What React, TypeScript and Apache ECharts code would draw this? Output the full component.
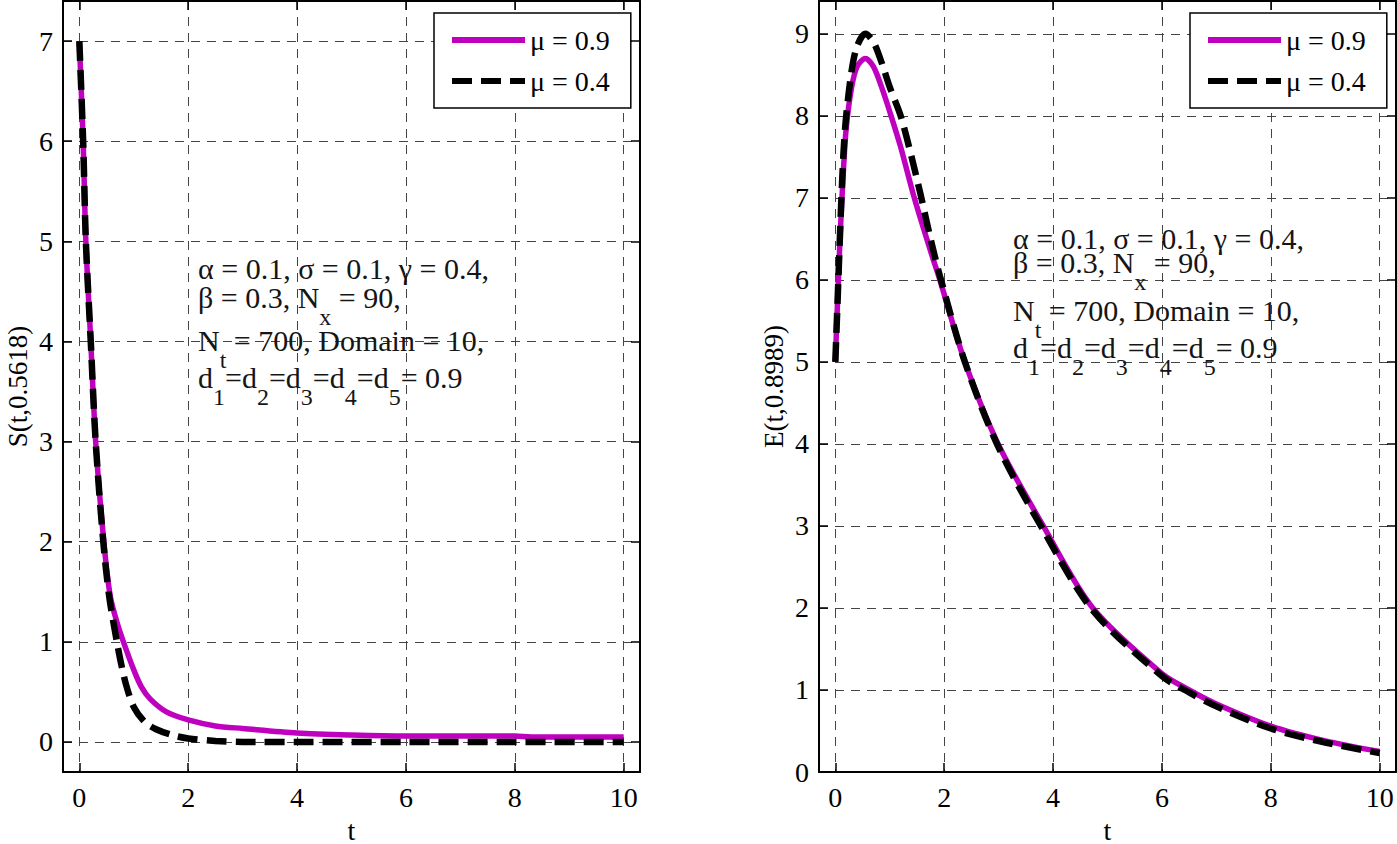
import React, { useEffect, useRef } from "react";
import * as echarts from "echarts";

// ---- data ----
const tS09 = [0, 0.07, 0.12, 0.21, 0.3, 0.45, 0.57, 0.7, 0.81, 1.0, 1.14, 1.3, 1.6, 2.0, 2.5, 3.0, 4.0, 5.0, 6.0, 8.0, 8.3, 10.0];
const S09 = [7, 6, 5, 4, 3, 2, 1.45, 1.18, 1.0, 0.72, 0.55, 0.43, 0.3, 0.22, 0.16, 0.135, 0.09, 0.07, 0.06, 0.06, 0.05, 0.05];
const tS04 = [0, 0.07, 0.12, 0.21, 0.3, 0.44, 0.55, 0.69, 0.78, 0.87, 1.0, 1.2, 1.4, 1.7, 2.0, 2.5, 3.0, 4.0, 6.0, 8.0, 10.0];
const S04 = [7, 6, 5, 4, 3, 2, 1.45, 1.0, 0.75, 0.55, 0.35, 0.2, 0.13, 0.07, 0.035, 0.01, 0, 0, 0, 0, 0];

const tE09 = [0, 0.05, 0.1, 0.15, 0.2, 0.3, 0.4, 0.55, 0.7, 0.85, 1.0, 1.2, 1.45, 1.75, 1.92, 2.38, 2.99, 3.82, 4.73, 6.0, 6.5, 7.0, 8.0, 9.0, 10.0];
const E09 = [5, 5.9, 6.7, 7.35, 7.85, 8.35, 8.6, 8.7, 8.6, 8.35, 8.05, 7.62, 7.0, 6.35, 6.0, 5.0, 4.0, 3.0, 2.0, 1.2, 1.0, 0.83, 0.56, 0.38, 0.25];
const tE04 = [0, 0.05, 0.1, 0.15, 0.2, 0.3, 0.4, 0.55, 0.7, 0.85, 1.0, 1.2, 1.4, 1.58, 1.75, 1.92, 2.38, 2.99, 3.82, 4.73, 6.0, 6.5, 7.0, 8.0, 9.0, 10.0];
const E04 = [5, 5.9, 6.8, 7.55, 8.0, 8.55, 8.85, 9.0, 8.9, 8.65, 8.35, 8.0, 7.5, 7.0, 6.5, 6.05, 5.0, 3.97, 2.95, 1.97, 1.17, 0.97, 0.8, 0.53, 0.36, 0.23];

const seriesNames = ["μ = 0.9", "μ = 0.4"];
const yNames = ["S(t,0.5618)", "E(t,0.8989)"];
const xName = "t";
const noteLines = [
  "{m|α = 0.1, σ = 0.1, γ = 0.4,}",
  "{m|β = 0.3, N}{s|x}{m| = 90,}",
  "{m|N}{s|t}{m| = 700, Domain = 10,}",
  "{m|d}{s|1}{m|=d}{s|2}{m|=d}{s|3}{m|=d}{s|4}{m|=d}{s|5}{m|= 0.9}",
];

const FONT = "Liberation Serif";
const MAGENTA = "#bf00bf";

const pairs = (t: number[], v: number[]) => t.map((x, i) => [x, v[i]]);

const intFmt = (v: number) => (Math.abs(v - Math.round(v)) < 1e-6 ? String(Math.round(v)) : "");

function mainX(gridIndex: number) {
  return {
    type: "value",
    gridIndex,
    min: -0.3,
    max: 10.3,
    splitNumber: 5,
    minInterval: 2,
    maxInterval: 2,
    position: "bottom",
    name: xName,
    nameLocation: "middle",
    nameGap: 44,
    nameTextStyle: { fontFamily: FONT, fontSize: 28, color: "#000" },
    axisLine: { show: true, onZero: false, lineStyle: { color: "#000", width: 2 } },
    axisTick: { show: true, inside: true, length: 9, lineStyle: { color: "#000", width: 1.5 } },
    axisLabel: { formatter: intFmt, fontFamily: FONT, fontSize: 28, color: "#000", margin: 11 },
    splitLine: { show: true, lineStyle: { type: [9, 7], color: "#444", width: 1 } },
  };
}
function topX(gridIndex: number) {
  return {
    type: "value",
    gridIndex,
    min: -0.3,
    max: 10.3,
    splitNumber: 5,
    minInterval: 2,
    maxInterval: 2,
    position: "top",
    axisLine: { show: true, onZero: false, lineStyle: { color: "#000", width: 2 } },
    axisTick: { show: true, inside: true, length: 9, lineStyle: { color: "#000", width: 1.5 } },
    axisLabel: { show: false },
    splitLine: { show: false },
  };
}
function mainY(gridIndex: number, min: number, max: number, split: number, name: string) {
  return {
    type: "value",
    gridIndex,
    min,
    max,
    splitNumber: split,
    minInterval: 1,
    maxInterval: 1,
    position: "left",
    name,
    nameLocation: "middle",
    nameGap: 32,
    nameRotate: 90,
    nameTextStyle: { fontFamily: FONT, fontSize: 27, color: "#000" },
    axisLine: { show: true, onZero: false, lineStyle: { color: "#000", width: 2 } },
    axisTick: { show: true, inside: true, length: 9, lineStyle: { color: "#000", width: 1.5 } },
    axisLabel: { formatter: intFmt, fontFamily: FONT, fontSize: 28, color: "#000", margin: 10 },
    splitLine: { show: true, lineStyle: { type: [9, 7], color: "#444", width: 1 } },
  };
}
function rightY(gridIndex: number, min: number, max: number, split: number) {
  return {
    type: "value",
    gridIndex,
    min,
    max,
    splitNumber: split,
    minInterval: 1,
    maxInterval: 1,
    position: "right",
    axisLine: { show: true, onZero: false, lineStyle: { color: "#000", width: 2 } },
    axisTick: { show: true, inside: true, length: 9, lineStyle: { color: "#000", width: 1.5 } },
    axisLabel: { show: false },
    splitLine: { show: false },
  };
}

function legendAt(left: number) {
  return {
    left,
    top: 13,
    orient: "vertical",
    data: seriesNames,
    itemWidth: 73,
    itemHeight: 14,
    itemGap: 13,
    padding: [13, 21, 13, 15],
    borderColor: "#000",
    borderWidth: 1.5,
    backgroundColor: "#fff",
    selectedMode: false,
    itemStyle: { opacity: 0 },
    lineStyle: { width: 6 },
    textStyle: { fontFamily: FONT, fontSize: 28, lineHeight: 28, color: "#000" },
  };
}

function noteGraphic(x: number, ys: number[]) {
  const rich = {
    m: { fontFamily: FONT, fontSize: 30, lineHeight: 30, color: "#151515", verticalAlign: "top" },
    s: { fontFamily: FONT, fontSize: 24, lineHeight: 47, color: "#151515", verticalAlign: "bottom" },
  };
  return noteLines.map((txt, i) => ({
    type: "text",
    x,
    y: ys[i],
    z: 50,
    style: { text: txt, rich, fill: "#151515", fontFamily: FONT, fontSize: 30 },
  }));
}

function lineSeries(name: string, xi: number, yi: number, data: number[][], dashed: boolean) {
  return {
    type: "line",
    name,
    xAxisIndex: xi,
    yAxisIndex: yi,
    data,
    symbol: "none",
    smooth: 0.3,
    z: dashed ? 4 : 3,
    lineStyle: dashed
      ? { color: "#000", width: 6.5, type: [20, 9], cap: "butt" }
      : { color: MAGENTA, width: 5.5 },
    itemStyle: { color: dashed ? "#000" : MAGENTA },
  };
}

export default function App() {
  const ref = useRef<HTMLDivElement>(null);
  useEffect(() => {
    document.body.style.margin = "0";
    const chart = echarts.init(ref.current!, null, { renderer: "svg" });
    chart.setOption({
      animation: false,
      backgroundColor: "#fff",
      textStyle: { fontFamily: FONT },
      grid: [
        { left: 63, top: 1, width: 577, height: 771, outerBoundsMode: "none" },
        { left: 819, top: 1, width: 577, height: 771, outerBoundsMode: "none" },
      ],
      xAxis: [mainX(0), topX(0), mainX(1), topX(1)],
      yAxis: [
        mainY(0, -0.3, 7.4, 7, yNames[0]),
        rightY(0, -0.3, 7.4, 7),
        mainY(1, 0, 9.4, 9, yNames[1]),
        rightY(1, 0, 9.4, 9),
      ],
      legend: [legendAt(434), legendAt(1190)],
      graphic: [
        ...noteGraphic(198, [253, 282, 325, 362]),
        ...noteGraphic(1013, [223, 247, 295, 332]),
      ],
      series: [
        lineSeries(seriesNames[0], 0, 0, pairs(tS09, S09), false),
        lineSeries(seriesNames[1], 0, 0, pairs(tS04, S04), true),
        lineSeries(seriesNames[0], 2, 2, pairs(tE09, E09), false),
        lineSeries(seriesNames[1], 2, 2, pairs(tE04, E04), true),
      ],
    });
    return () => chart.dispose();
  }, []);
  return (
    <div
      ref={ref}
      style={{ position: "absolute", left: 0, top: 0, width: 1397, height: 844, background: "#fff" }}
    />
  );
}
